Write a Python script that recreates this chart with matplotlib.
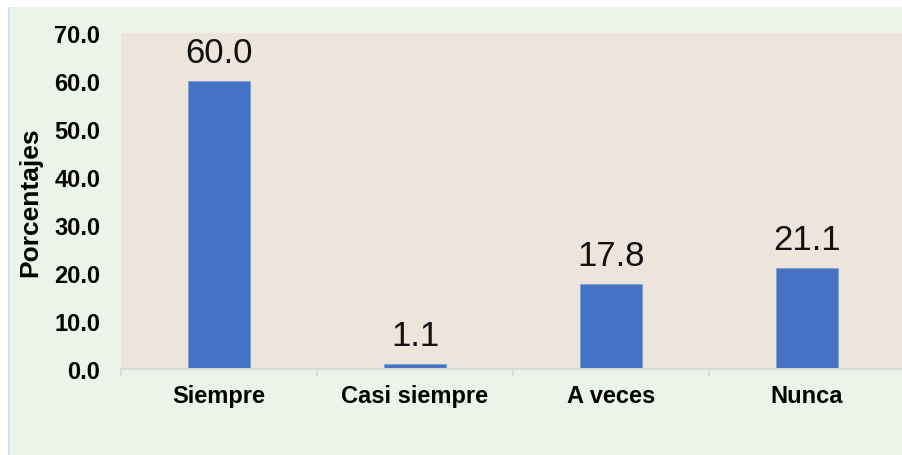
import matplotlib.pyplot as plt
import numpy as np
from matplotlib.patches import Rectangle

categories = ['Siempre', 'Casi siempre', 'A veces', 'Nunca']
values = [60.0, 1.1, 17.8, 21.1]
y_ticks = [0, 10, 20, 30, 40, 50, 60, 70]

plt.rcParams['font.family'] = ['Liberation Sans', 'DejaVu Sans']

fig = plt.figure(figsize=(9.02, 4.56), dpi=100)
fig.patch.set_facecolor('white')

# green chart area with a thin blue-ish left border
fig.patches.append(Rectangle((8 / 902, 0), 1, 1 - 8 / 456, transform=fig.transFigure,
                             facecolor='#ECF3E8', edgecolor='none', zorder=-10))
fig.patches.append(Rectangle((8 / 902, 0), 2 / 902, 1 - 8 / 456, transform=fig.transFigure,
                             facecolor='#D3E0EE', edgecolor='none', zorder=-9))

ax = fig.add_axes([121 / 902, 86 / 456, 784 / 902, 336 / 456])
ax.set_facecolor('#EDE5DB')

x = np.arange(len(categories))
bars = ax.bar(x, values, width=0.316, color='#4472C4', edgecolor='#7F9FD6', linewidth=0.6)

for xi, v in zip(x, values):
    ax.annotate(f'{v:.1f}', xy=(xi, v), xytext=(0, 13.7), textcoords='offset points',
                ha='center', va='baseline', fontsize=25, color='#111111')

ax.set_xlim(-0.5, len(categories) - 0.5)
ax.set_ylim(0, 70)
ax.set_yticks(y_ticks)
ax.set_yticklabels([f'{t:.1f}' for t in y_ticks], fontsize=17, fontweight='bold')
ax.set_xticks(x)
ax.set_xticklabels(categories, fontsize=17, fontweight='bold')
ax.set_xticks(np.arange(-0.5, len(categories), 1.0), minor=True)

ax.tick_params(axis='y', length=0, pad=15)
ax.tick_params(axis='x', which='major', length=0, pad=11)
ax.tick_params(axis='x', which='minor', length=5, width=1.2, color='#D9D9D9')

for side in ['top', 'right', 'left']:
    ax.spines[side].set_visible(False)
ax.spines['bottom'].set_color('#D9D9D9')
ax.spines['bottom'].set_linewidth(1.5)

ax.set_ylabel('Porcentajes', fontsize=19, fontweight='bold')
ax.yaxis.set_label_coords(-0.100, 0.5)

fig.savefig('out.png', dpi=100, facecolor=fig.get_facecolor())
